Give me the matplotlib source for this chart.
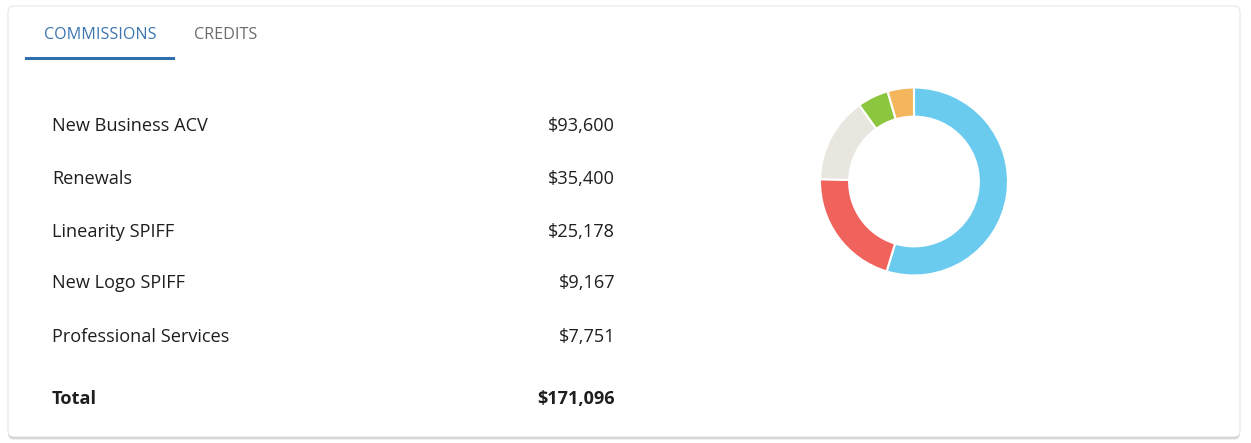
import matplotlib
matplotlib.use("Agg")
import matplotlib.pyplot as plt
from matplotlib.patches import FancyBboxPatch, Rectangle

categories = ["New Business ACV", "Renewals", "Linearity SPIFF", "New Logo SPIFF", "Professional Services"]
values = [93600, 35400, 25178, 9167, 7751]
value_labels = ["$93,600", "$35,400", "$25,178", "$9,167", "$7,751"]
total_label = "$171,096"
tabs = ["COMMISSIONS", "CREDITS"]
colors = ["#6bcbef", "#f0635d", "#e8e6de", "#8cc63f", "#f4b65c"]

W, H = 1251, 443
fig = plt.figure(figsize=(W / 100, H / 100), dpi=100)
fig.patch.set_facecolor("#ffffff")
bg = fig.add_axes([0, 0, 1, 1])
bg.set_xlim(0, W)
bg.set_ylim(H, 0)
bg.axis("off")

FONT = ["Open Sans", "DejaVu Sans"]

# card shadow + card
for off, a in [(3, 0.06), (2, 0.09), (1, 0.12)]:
    bg.add_patch(FancyBboxPatch((8, 6 + off), 1232, 431, boxstyle="round,pad=0,rounding_size=6",
                                facecolor="#000000", alpha=a, edgecolor="none", zorder=1))
bg.add_patch(FancyBboxPatch((8, 6), 1232, 431, boxstyle="round,pad=0,rounding_size=6",
                            facecolor="#ffffff", edgecolor="#e6e6e6", linewidth=0.8, zorder=2))

# tabs
bg.text(100.5, 34.5, tabs[0], ha="center", va="center", fontsize=11.6, color="#3b76b0",
        family=FONT, zorder=3)
bg.text(226, 34.5, tabs[1], ha="center", va="center", fontsize=11.6, color="#6b6b6b",
        family=FONT, zorder=3)
bg.add_patch(Rectangle((25, 57), 150, 2.5, facecolor="#2f6fae", edgecolor="none", zorder=3))

# rows
FS = 13.1
row_y = [125.5, 178.5, 231.5, 283.5, 336.5]
for y, c, v in zip(row_y, categories, value_labels):
    bg.text(52, y, c, ha="left", va="center", fontsize=FS, color="#1e1e1e", family=FONT, zorder=3)
    bg.text(615, y, v, ha="right", va="center", fontsize=FS, color="#1e1e1e", family=FONT, zorder=3)
bg.text(52, 398.5, "Total", ha="left", va="center", fontsize=FS, color="#1e1e1e",
        family=FONT, fontweight="bold", zorder=3)
bg.text(615, 398.5, total_label, ha="right", va="center", fontsize=FS, color="#1e1e1e",
        family=FONT, fontweight="bold", zorder=3)

# donut
cx, cy, r = 914, 181.5, 94
pax = fig.add_axes([(cx - r) / W, (H - cy - r) / H, 2 * r / W, 2 * r / H])
pax.pie(values, colors=colors, startangle=90, counterclock=False, radius=1,
        wedgeprops=dict(width=0.31, edgecolor="white", linewidth=1.5))
pax.set_xlim(-1, 1)
pax.set_ylim(-1, 1)
pax.set_aspect("equal")
pax.axis("off")
pax.set_zorder(5)

fig.savefig("out.png", dpi=100, facecolor=fig.get_facecolor())
